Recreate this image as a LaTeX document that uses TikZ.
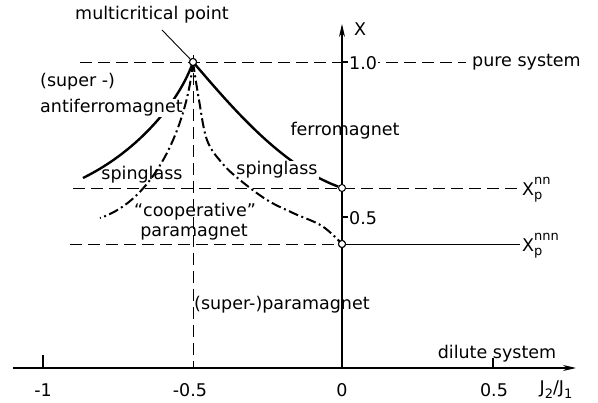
\documentclass[tikz,border=0pt]{standalone}
\usepackage{fontspec}
\setmainfont{DejaVu Sans}
\usetikzlibrary{arrows.meta}
\newcommand{\smallfs}{\fontsize{13}{14}\selectfont}
\begin{document}
\begin{tikzpicture}[x=1pt,y=-1pt,
  axis/.style={line width=1.1pt},
  bound/.style={line width=2.4pt},
  ddash/.style={line width=2pt, dash pattern=on 10pt off 3.5pt on 2pt off 3.5pt},
  guide/.style={line width=0.9pt, dash pattern=on 12pt off 6pt},
  lbl/.style={font=\fontsize{17.5}{19}\selectfont, inner sep=0pt},
  wlbl/.style={lbl, fill=white, inner sep=1pt},
  pt/.style={circle, draw, fill=white, inner sep=0pt, minimum size=7pt, line width=1pt}]
\useasboundingbox (0,0) rectangle (598,403);
% coordinates
\coordinate (xs) at (13,368);
\coordinate (xe) at (576,368);
\coordinate (O) at (342,368);
\coordinate (ye) at (342,24);
\coordinate (g1a) at (80,62);
\coordinate (g1b) at (466,62);
\coordinate (g2a) at (73,188);
\coordinate (g2b) at (520,188);
\coordinate (g3a) at (70,244);
\coordinate (g3b) at (342,244);
\coordinate (g3c) at (520,244);
\coordinate (v1) at (193,55);
\coordinate (v2) at (193,368);
% guide lines
\draw[guide] (g1a) -- (g1b);
\draw[guide] (g2a) -- (g2b);
\draw[guide] (g3a) -- (g3b);
\draw[line width=0.9pt] (g3b) -- (g3c);
\draw[guide] (v1) -- (v2);
% axes
\draw[axis,-{Stealth[length=13pt,width=6pt]}] (xs) -- (xe);
\draw[axis,-{Stealth[length=13pt,width=6pt]}] (O) -- (ye);
% ticks
\coordinate (tm1) at (43,368); \coordinate (tm1e) at (43,355);
\coordinate (tp5) at (493,368); \coordinate (tp5e) at (493,358);
\coordinate (ty1) at (342,62); \coordinate (ty1e) at (348,62);
\coordinate (ty5) at (342,217); \coordinate (ty5e) at (348,217);
\draw[axis] (tm1) -- (tm1e);
\draw[axis] (tp5) -- (tp5e);
\draw[axis] (ty1) -- (ty1e);
\draw[axis] (ty5) -- (ty5e);
% points
\node[pt] (mc) at (193,62) {};
\node[pt] (pnn) at (342,188) {};
\node[pt] (pnnn) at (342,244) {};
\coordinate (lcend) at (83,178);
\coordinate (rdd) at (100,218);
% solid boundaries
\draw[bound] (mc.center) .. controls (180,100) and (140,150) .. (lcend);
\draw[bound] (mc.center) .. controls (230,105) and (280,165) .. (pnn);
% labels
\node[lbl, anchor=west] (sup) at (40,82) {(super -)};
\node[wlbl, anchor=west] (afm) at (39,108) {antiferromagnet};
\node[lbl] (fm) at (345,131) {ferromagnet};
\node[lbl] (sgl) at (142,175) {spinglass};
\node[wlbl] (sgr) at (277,170) {spinglass};
\node[lbl] (coop) at (195,212) {“cooperative”};
\node[lbl] (para) at (194,232) {paramagnet};
\node[lbl, anchor=west] (spara) at (194,305) {(super-)paramagnet};
\node[lbl] (dil) at (497,354) {dilute system};
\node[lbl, anchor=west] (pure) at (472,62) {pure system};
\node[wlbl, anchor=west] (one) at (348,63) {1.0};
\node[lbl, anchor=west] (half) at (349,218) {0.5};
\node[lbl] (X) at (360,29) {X};
\node[lbl, anchor=west] (Xnn) at (522,190) {X\rlap{\raisebox{-0.5ex}{\smallfs p}}\raisebox{1.1ex}{\smallfs nn}};
\node[lbl, anchor=west] (Xnnn) at (522,246) {X\rlap{\raisebox{-0.5ex}{\smallfs p}}\raisebox{1.1ex}{\smallfs nnn}};
\node[lbl] (lm1) at (43,390) {-1};
\node[lbl] (lm5) at (190,390) {-0.5};
\node[lbl] (l0) at (342,390) {0};
\node[lbl] (lp5) at (494,390) {0.5};
\node[lbl] (lj) at (556,390) {J\raisebox{-0.5ex}{\smallfs 2}/J\raisebox{-0.5ex}{\smallfs 1}};
\node[lbl] (mcl) at (152,15) {multicritical point};
\coordinate (lead) at (162,30);
\draw[line width=0.9pt] (lead) -- (mc);
% dash-dot boundaries
\draw[ddash] (mc.center) .. controls (187,125) and (155,200) .. (rdd);
\draw[ddash] plot[smooth, tension=0.6] coordinates {(193,62) (199,100) (207,140) (222,163) (240,180) (267,200) (293,213) (322,226) (342,244)};
\node[pt] at (mc) {};
\node[pt] at (pnnn) {};
\end{tikzpicture}
\end{document}
